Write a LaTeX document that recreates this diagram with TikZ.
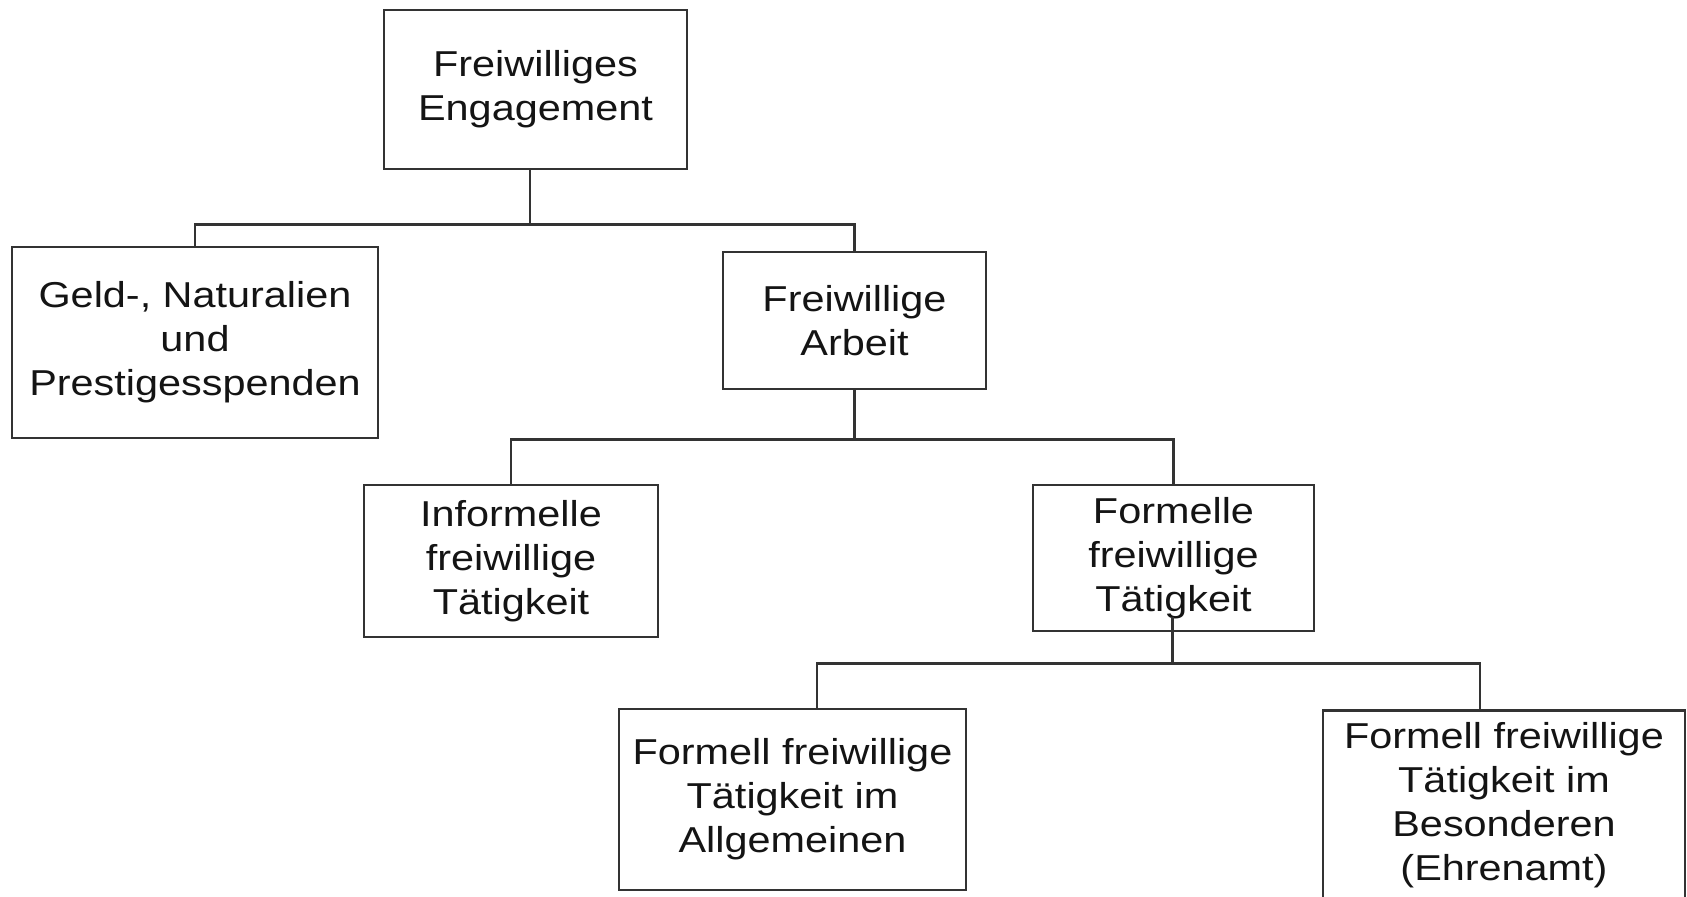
\documentclass[tikz,border=0pt]{standalone}
\usepackage{fontspec}
\setmainfont[FakeStretch=1.15]{Liberation Sans}
\usetikzlibrary{positioning}
\begin{document}
\begin{tikzpicture}[x=0.5pt,y=-0.5pt,
  box/.style={draw=black!80, line width=1.3pt, fill=white, align=center,
    text=black!92, inner sep=0pt,
    font=\fontsize{18pt}{22pt}\selectfont},
  link/.style={draw=black!80, line width=1.3pt}]
\useasboundingbox (0,0) rectangle (1687,896);
\clip (0,0) rectangle (1687,896);

% boxes
\node[box, minimum width=151.5pt, minimum height=79.5pt] (root) at (535.5,89.5)
  {Freiwilliges\\Engagement};
\node[box, minimum width=183pt, minimum height=95.5pt] (geld) at (195,342.5)
  {Geld-, Naturalien\\und\\Prestigesspenden};
\node[box, minimum width=131.5pt, minimum height=68.5pt] (arbeit) at (854.5,320.5)
  {Freiwillige\\Arbeit};
\node[box, minimum width=147pt, minimum height=76pt] (inf) at (511,561)
  {Informelle\\freiwillige\\Tätigkeit};
\node[box, minimum width=140.5pt, minimum height=73pt] (form) at (1173.5,558)
  {Formelle\\freiwillige\\Tätigkeit};
\node[box, minimum width=173.5pt, minimum height=90.5pt] (allg) at (792.5,799.5)
  {Formell freiwillige\\Tätigkeit im\\Allgemeinen};
\node[box, anchor=north, minimum width=181pt, inner ysep=6pt, text depth=100pt]
  (ehren) at (1504,709)
  {Formell freiwillige\\Tätigkeit im\\Besonderen\\(Ehrenamt)};

% connectors, level 1
\draw[link] (geld.north) -- ++(0,-21) coordinate (bar1) -| (arbeit.north);
\draw[link] ([xshift=-2.75pt]root.south) -- ([xshift=-2.75pt]root.south |- bar1);

% connectors, level 2
\draw[link] (inf.north) -- ++(0,-44) coordinate (bar2) -| (form.north);
\draw[link] (arbeit.south) -- (arbeit.south |- bar2);

% connectors, level 3 (stem starts inside the box above)
\coordinate (fstem) at (1172.5,617);
\draw[link] ([xshift=12.25pt]allg.north) -- ++(0,-44) coordinate (bar3)
  -| ([xshift=-12pt]ehren.north);
\draw[link] (fstem) -- (fstem |- bar3);
\end{tikzpicture}
\end{document}
